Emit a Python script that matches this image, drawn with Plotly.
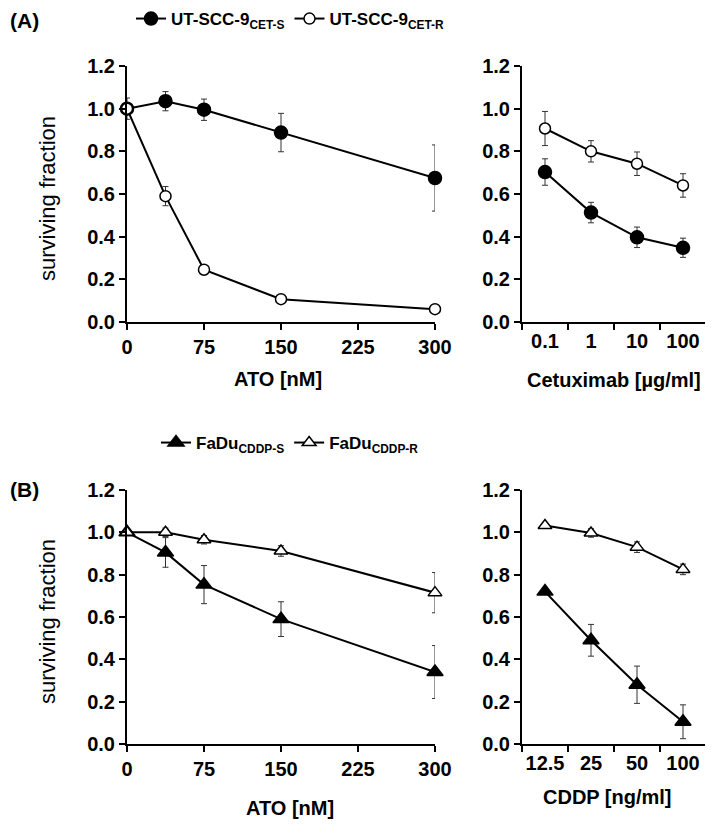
import plotly.graph_objs as go

# ATO dose (nM), shared by both left panels
ato_dose = [0, 37.5, 75, 150, 300]

# (A) UT-SCC-9 against ATO
cets_ato = [1.0, 1.035, 0.995, 0.888, 0.675]
cets_ato_err = [0.05, 0.045, 0.05, 0.09, 0.155]
cetr_ato = [1.0, 0.59, 0.245, 0.107, 0.06]
cetr_ato_err = [0.0, 0.045, 0.01, 0.008, 0.006]

# (A) UT-SCC-9 against cetuximab
cetux_labels = ['0.1', '1', '10', '100']
cets_cetux = [0.703, 0.513, 0.397, 0.348]
cets_cetux_err = [0.062, 0.048, 0.048, 0.045]
cetr_cetux = [0.907, 0.80, 0.742, 0.64]
cetr_cetux_err = [0.08, 0.05, 0.055, 0.055]

# (B) FaDu against ATO
cddps_ato = [1.0, 0.905, 0.753, 0.59, 0.34]
cddps_ato_err = [0.0, 0.07, 0.09, 0.082, 0.125]
cddpr_ato = [1.0, 1.0, 0.965, 0.912, 0.715]
cddpr_ato_err = [0.0, 0.02, 0.02, 0.025, 0.095]

# (B) FaDu against CDDP
cddp_labels = ['12.5', '25', '50', '100']
cddps_cddp = [0.72, 0.49, 0.28, 0.105]
cddps_cddp_err = [0.0, 0.075, 0.088, 0.08]
cddpr_cddp = [1.032, 0.997, 0.93, 0.825]
cddpr_cddp_err = [0.0, 0.02, 0.025, 0.025]

FONT = 'Liberation Sans, Arial, sans-serif'

# the page body has an 8px margin, so the figure is a bit smaller
# and positions are measured from the window corner minus 8px
OFF = 8
FW, FH = 713 - OFF, 829 - OFF


def fx(px):
    return (px - OFF) / FW


def fy(py):
    return 1 - (py - OFF) / FH


def trace(x, y, err, name, symbol, fill, size, xa, ya, legend, show):
    return go.Scatter(
        x=x, y=y,
        mode='lines+markers',
        name=name,
        line=dict(color='black', width=2),
        marker=dict(symbol=symbol, size=size, color=fill,
                    line=dict(color='black', width=1.5)),
        error_y=dict(type='data', array=err, color='#333333',
                     thickness=1, width=3),
        xaxis=xa, yaxis=ya,
        legend=legend,
        showlegend=show,
        cliponaxis=False,
    )


data = [
    trace(ato_dose, cets_ato, cets_ato_err, 'UT-SCC-9<sub>CET-S</sub>',
          'circle', 'black', 13, 'x', 'y', 'legend', True),
    trace(ato_dose, cetr_ato, cetr_ato_err, 'UT-SCC-9<sub>CET-R</sub>',
          'circle', 'white', 11, 'x', 'y', 'legend', True),
    trace(cetux_labels, cets_cetux, cets_cetux_err, 'CET-S',
          'circle', 'black', 13, 'x2', 'y2', 'legend', False),
    trace(cetux_labels, cetr_cetux, cetr_cetux_err, 'CET-R',
          'circle', 'white', 11, 'x2', 'y2', 'legend', False),
    trace(ato_dose, cddps_ato, cddps_ato_err, 'FaDu<sub>CDDP-S</sub>',
          'triangle-up', 'black', 14, 'x3', 'y3', 'legend2', True),
    trace(ato_dose, cddpr_ato, cddpr_ato_err, 'FaDu<sub>CDDP-R</sub>',
          'triangle-up', 'white', 12, 'x3', 'y3', 'legend2', True),
    trace(cddp_labels, cddps_cddp, cddps_cddp_err, 'CDDP-S',
          'triangle-up', 'black', 14, 'x4', 'y4', 'legend2', False),
    trace(cddp_labels, cddpr_cddp, cddpr_cddp_err, 'CDDP-R',
          'triangle-up', 'white', 12, 'x4', 'y4', 'legend2', False),
]

left_dom = [fx(127), fx(435)]
right_dom = [fx(522), fx(706)]
top_dom = [fy(322), fy(66)]
bot_dom = [fy(744), fy(490)]

axis_style = dict(showline=True, linecolor='black', linewidth=2,
                  ticks='outside', ticklen=6, tickwidth=2, tickcolor='black',
                  showgrid=False, zeroline=False, automargin=False,
                  tickangle=0,
                  tickfont=dict(family=FONT, size=20, color='black', weight='bold'))

yaxis_style = dict(axis_style, range=[0, 1.2], dtick=0.2, tickformat='.1f')

legend_style = dict(orientation='h', xanchor='center', yanchor='middle',
                    itemwidth=30, tracegroupgap=0, bgcolor='rgba(0,0,0,0)',
                    font=dict(family=FONT, size=17, color='black', weight='bold'))

layout = go.Layout(
    width=FW, height=FH,
    template='none',
    margin=dict(l=0, r=0, t=0, b=0, pad=0, autoexpand=False),
    paper_bgcolor='white', plot_bgcolor='white',
    font=dict(family=FONT, color='black'),
    xaxis=dict(axis_style, domain=left_dom, anchor='y', range=[0, 300],
               tickvals=[0, 75, 150, 225, 300]),
    yaxis=dict(yaxis_style, domain=top_dom, anchor='x'),
    xaxis2=dict(axis_style, domain=right_dom, anchor='y2', type='category',
                tickson='boundaries', range=[-0.5, 3.5]),
    yaxis2=dict(yaxis_style, domain=top_dom, anchor='x2'),
    xaxis3=dict(axis_style, domain=left_dom, anchor='y3', range=[0, 300],
                tickvals=[0, 75, 150, 225, 300]),
    yaxis3=dict(yaxis_style, domain=bot_dom, anchor='x3'),
    xaxis4=dict(axis_style, domain=right_dom, anchor='y4', type='category',
                tickson='boundaries', range=[-0.5, 3.5]),
    yaxis4=dict(yaxis_style, domain=bot_dom, anchor='x4'),
    legend=dict(legend_style, x=fx(290), y=fy(19)),
    legend2=dict(legend_style, x=fx(290), y=fy(443)),
)

# text, x px, y px, size, angle, anchor
notes = [
    ('<b>(A)</b>', 9, 21, 21, 0, 'left'),
    ('<b>(B)</b>', 9, 490, 21, 0, 'left'),
    ('surviving fraction', 47, 199, 22, -90, 'center'),
    ('surviving fraction', 47, 622, 22, -90, 'center'),
    ('<b>ATO [nM]</b>', 278, 379, 20, 0, 'center'),
    ('<b>Cetuximab [µg/ml]</b>', 614, 380, 20, 0, 'center'),
    ('<b>ATO [nM]</b>', 290, 808, 20, 0, 'center'),
    ('<b>CDDP [ng/ml]</b>', 607, 797, 20, 0, 'center'),
]
layout.annotations = [
    dict(text=t, x=fx(px), y=fy(py), xref='paper', yref='paper',
         showarrow=False, xanchor=anc, yanchor='middle', textangle=a,
         borderpad=0,
         font=dict(family=FONT, size=s, color='black'))
    for t, px, py, s, a, anc in notes
]

fig = go.Figure(data=data, layout=layout)
fig.write_html('out.html')
